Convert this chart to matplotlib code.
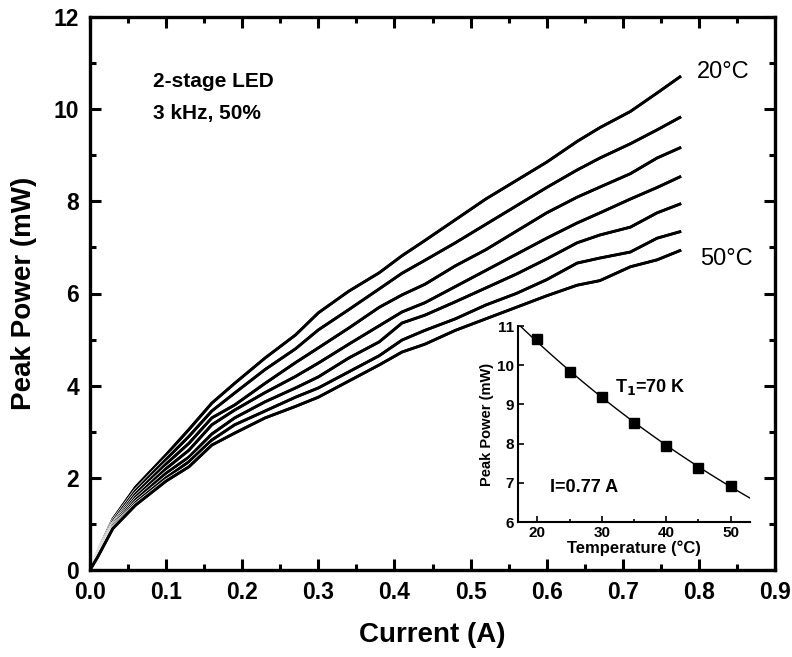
import matplotlib
matplotlib.use("Agg")
import matplotlib.pyplot as plt
import matplotlib.patheffects as pe
from matplotlib.ticker import MultipleLocator
import numpy as np

plt.rcParams['font.family'] = ['Liberation Sans', 'DejaVu Sans']

# main panel: peak power vs current for 20..50 C
current = [0, 0.01, 0.03, 0.06, 0.10, 0.13, 0.16, 0.19, 0.23, 0.27, 0.30, 0.34,
           0.38, 0.41, 0.44, 0.48, 0.52, 0.56, 0.60, 0.64, 0.67, 0.71, 0.745, 0.775]
p20 = [0, 0.4, 1.1, 1.8, 2.5, 3.05, 3.62, 4.05, 4.6, 5.1, 5.58, 6.05,
       6.45, 6.82, 7.15, 7.6, 8.05, 8.45, 8.85, 9.3, 9.6, 9.95, 10.35, 10.7]
p25 = [0, 0.38, 1.05, 1.72, 2.4, 2.9, 3.45, 3.84, 4.35, 4.8, 5.21, 5.65,
       6.1, 6.44, 6.72, 7.1, 7.5, 7.9, 8.3, 8.68, 8.94, 9.25, 9.55, 9.82]
p30 = [0, 0.36, 1.0, 1.65, 2.3, 2.75, 3.3, 3.58, 4.05, 4.5, 4.82, 5.25,
       5.7, 5.97, 6.2, 6.6, 6.95, 7.35, 7.75, 8.09, 8.31, 8.6, 8.94, 9.16]
p35 = [0, 0.34, 0.98, 1.58, 2.2, 2.6, 3.15, 3.47, 3.85, 4.2, 4.49, 4.9,
       5.3, 5.6, 5.8, 6.15, 6.5, 6.85, 7.2, 7.53, 7.75, 8.05, 8.3, 8.53]
p40 = [0, 0.32, 0.95, 1.52, 2.1, 2.45, 2.95, 3.3, 3.65, 3.95, 4.19, 4.6,
       4.95, 5.36, 5.53, 5.82, 6.12, 6.42, 6.75, 7.1, 7.27, 7.44, 7.75, 7.94]
p45 = [0, 0.3, 0.92, 1.46, 2.0, 2.35, 2.82, 3.15, 3.45, 3.75, 3.95, 4.3,
       4.65, 4.99, 5.2, 5.45, 5.75, 6.0, 6.3, 6.66, 6.77, 6.9, 7.2, 7.34]
p50 = [0, 0.28, 0.9, 1.41, 1.93, 2.24, 2.71, 2.97, 3.3, 3.55, 3.75, 4.1,
       4.45, 4.73, 4.9, 5.2, 5.45, 5.7, 5.95, 6.18, 6.28, 6.58, 6.73, 6.93]
curves = [p20, p25, p30, p35, p40, p45, p50]

# inset: peak power at I = 0.77 A vs temperature
temps = [20, 25, 30, 35, 40, 45, 50]
peak_077 = [10.68, 9.82, 9.18, 8.52, 7.95, 7.38, 6.93]
T1 = 70.0

fig = plt.figure(figsize=(7.92, 6.57), dpi=100)
ax = fig.add_axes([90/792, 1 - 570/657, 685/792, 553/657])

for p in curves:
    ax.plot(current, p, color='black', lw=2.0, solid_joinstyle='round',
            path_effects=[pe.withStroke(linewidth=3.2, foreground='white'), pe.Normal()])

ax.set_xlim(0, 0.9)
ax.set_ylim(0, 12)
ax.xaxis.set_minor_locator(MultipleLocator(0.05))
ax.yaxis.set_major_locator(MultipleLocator(2))
ax.yaxis.set_minor_locator(MultipleLocator(1))
ax.set_xticks(np.arange(0, 0.91, 0.1))
ax.set_xticklabels([f"{v:.1f}" for v in np.arange(0, 0.91, 0.1)])
ax.tick_params(which='both', direction='in', top=True, right=True, width=2.2)
ax.tick_params(which='major', length=8, labelsize=16.5, pad=8)
ax.tick_params(which='minor', length=4)
for lab in ax.get_xticklabels() + ax.get_yticklabels():
    lab.set_fontweight('bold')
for s in ax.spines.values():
    s.set_linewidth(2.4)

ax.set_xlabel('Current (A)', fontsize=20, fontweight='bold', labelpad=13)
ax.set_ylabel('Peak Power (mW)', fontsize=20, fontweight='bold', labelpad=12)

ax.text(0.083, 10.6, '2-stage LED', fontsize=15, fontweight='bold', va='center')
ax.text(0.083, 9.9, '3 kHz, 50%', fontsize=15, fontweight='bold', va='center')
ax.text(0.798, 10.8, '20°C', fontsize=17, va='center')
ax.text(0.802, 6.75, '50°C', fontsize=17, va='center')

# inset
ins = fig.add_axes([518/792, 1 - 522/657, 232/792, 196/657])
tfit = np.linspace(17, 53, 50)
a = np.mean(np.log(peak_077) + np.array(temps) / T1)
ins.plot(tfit, np.exp(a - tfit / T1), color='black', lw=1.0)
ins.plot(temps, peak_077, 's', color='black', ms=7)
ins.set_xlim(17, 53)
ins.set_ylim(6, 11)
ins.xaxis.set_major_locator(MultipleLocator(10))
ins.xaxis.set_minor_locator(MultipleLocator(5))
ins.yaxis.set_major_locator(MultipleLocator(1))
ins.spines['top'].set_visible(False)
ins.spines['right'].set_visible(False)
for s in ('left', 'bottom'):
    ins.spines[s].set_linewidth(1.5)
ins.tick_params(which='both', direction='in', width=1.2, labelsize=11, pad=3)
ins.tick_params(which='major', length=4)
ins.tick_params(which='minor', length=2)
for lab in ins.get_xticklabels() + ins.get_yticklabels():
    lab.set_fontweight('bold')
ins.set_xlabel('Temperature (°C)', fontsize=12, fontweight='bold', labelpad=0)
ins.set_ylabel('Peak Power (mW)', fontsize=10.5, fontweight='bold', labelpad=2)
ins.text(32, 9.44, r'T$_\mathbf{1}$=70 K', fontsize=13, fontweight='bold', va='center')
ins.text(22, 6.87, 'I=0.77 A', fontsize=13, fontweight='bold', va='center')

fig.savefig('out.png', dpi=100)
